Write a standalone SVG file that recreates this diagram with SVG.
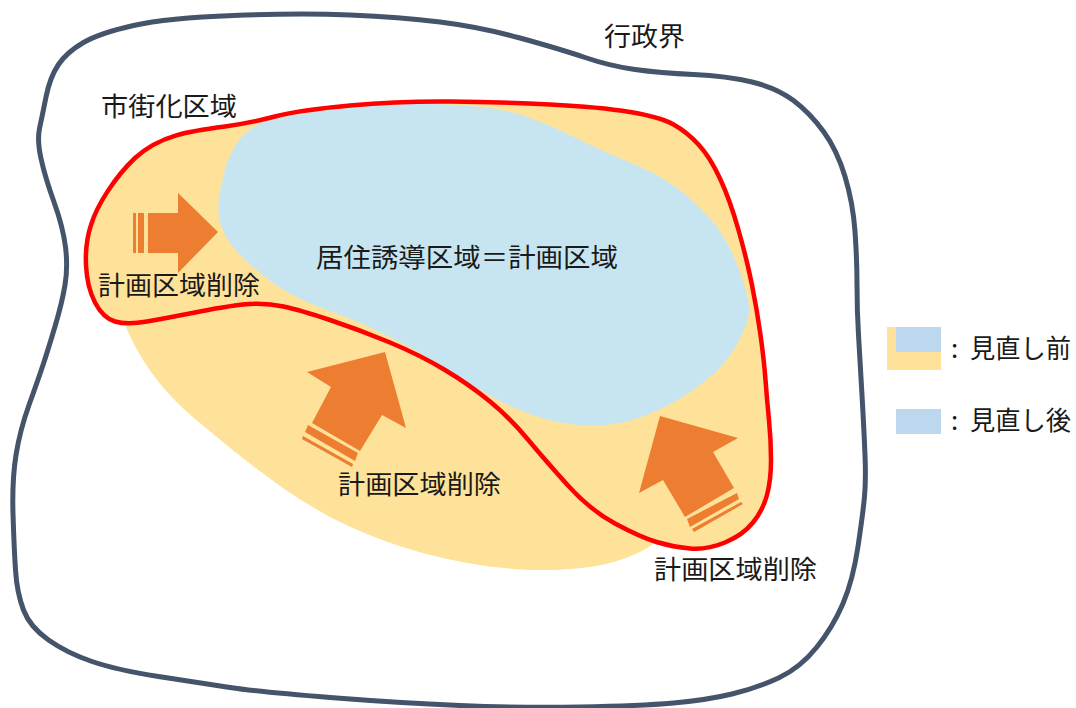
<svg xmlns="http://www.w3.org/2000/svg" width="1076" height="708" viewBox="0 0 1076 708">
<style>
text{font-family:"Noto Sans CJK JP","Noto Sans",sans-serif;font-size:26px;fill:#1a1a1a}
.arrow{fill:#ED7D31}
.yellow{fill:#FFE299}
.legend{fill:#BDD7EE}
</style>
<defs>
<path id="urban-shape" d="M275 116.5Q250 123 225 126.5C190 131 160 135 135 158C115 177 97 205 91 225Q85 243 86 265Q87 287 95 302.5Q103 318 115 321.5Q127 325 147 321.5Q167 318 200 311.5Q233 305 250 304Q267 303 283.5 306.5Q300 310 330 320Q360 330 390 342.5Q420 355 445 370Q470 385 490 401.5Q510 418 527.5 439Q545 460 567.5 485Q590 510 615 523.5Q640 537 656.5 542Q673 547 690 548.5Q707 550 725 542.5Q743 535 753 522.5Q763 510 767 495Q771 480 771 460Q771 440 769 420Q767 400 765.5 380Q764 360 760.5 335Q757 310 752 285Q747 260 738.5 230Q730 200 720 178.5Q710 157 698.5 144.5Q687 132 673.5 124.5Q660 117 630 112Q600 107 550 104.5Q500 102 450 101.5Q400 101 350 105.5Q300 110 275 116.5Z"/>
</defs>
<rect width="1076" height="708" fill="#fff"/>
<g id="admin-boundary"><path d="M233.5 15.5Q300 13 350 15Q400 17 440 22Q480 27 520 38Q560 49 585 57.5Q610 66 635 69.5Q660 73 693.5 74.5Q727 76 752 82Q777 88 793.5 100.5Q810 113 823.5 131.5Q837 150 845 176.5Q853 203 855 231.5Q857 260 857 285Q857 310 858.5 335Q860 360 862 395Q864 430 865 455Q866 480 864.5 496.5Q863 513 858 546.5Q853 580 843 603.5Q833 627 816.5 647.5Q800 668 778.5 678Q757 688 732 694Q707 700 673.5 703Q640 706 580 707Q520 708 460 705.5Q400 703 330 697.5Q260 692 230 687.5Q200 683 158.5 676.5Q117 670 92 661.5Q67 653 48.5 640Q30 627 23.5 610Q17 593 15.5 570Q14 547 13 513.5Q12 480 16 455Q20 430 29 405Q38 380 43 365Q48 350 55 326.5Q62 303 65 285Q68 267 65.5 247Q63 227 54 202Q45 177 41 158.5Q37 140 39.5 128.5Q42 117 46 97Q50 77 58.5 64.5Q67 52 83.5 42.5Q100 33 133.5 25.5Q167 18 233.5 15.5Z" fill="#fff" stroke="#44546A" stroke-width="5"/></g>
<g id="urban-area">
<path class="yellow" d="M125 325C145 372 172 400 200 423C235 452 280 490 330 517C400 553 480 571 550 570C595 569 625 562 652 545L700 480L500 350L300 295L233 305L167 318Z"/>
<use href="#urban-shape" class="yellow"/>
</g>
<g id="planning-area"><path d="M275 119C245 125 232 145 225 170C218 195 216 215 222 228Q227 243 247 261.5Q267 280 283.5 290Q300 300 330 311Q360 322 390 337Q420 352 445 368.5Q470 385 495 398.5Q520 412 545 419Q570 426 595 425.5Q620 425 640 417.5Q660 410 675 401.5Q690 393 707.5 379Q725 365 736.5 345Q748 325 749 312Q750 300 738.5 268.5Q727 237 710 218.5Q693 200 676.5 187.5Q660 175 630 162.5Q600 150 575 137.5Q550 125 525 116Q500 107 450 104.5Q400 102 350 107.5Q300 113 275 119Z" fill="#C7E5F1"/></g>
<g id="urban-outline"><use href="#urban-shape" fill="none" stroke="#FF0000" stroke-width="4.5"/></g>
<g id="arrow-left">
<polygon class="arrow" points="218,232 178,193 178,213 148,213 148,253 178,253 178,273"/>
<rect class="arrow" x="138" y="213" width="6" height="40"/>
<rect class="arrow" x="133" y="213" width="3" height="40"/>
</g>
<g id="arrow-center">
<polygon class="arrow" points="385,352 307,372 331,387 312,423 360,451 382,415 406,428"/>
<polygon class="arrow" points="308,425 358,453 355,461 305,432"/>
<polygon class="arrow" points="303,436 353,464 352,467 302,439"/>
</g>
<g id="arrow-right">
<polygon class="arrow" points="660,416 738,438 713,452 734,488 685,517 663,480 639,493"/>
<polygon class="arrow" points="737,493 739,499 690,527 687,519"/>
<polygon class="arrow" points="741,502 743,504 694,532 692,529"/>
</g>
<g id="labels">
<text x="604" y="46" textLength="81" lengthAdjust="spacingAndGlyphs">行政界</text>
<text x="101" y="116" textLength="136" lengthAdjust="spacingAndGlyphs">市街化区域</text>
<text x="316" y="267" textLength="302" lengthAdjust="spacingAndGlyphs">居住誘導区域＝計画区域</text>
<text x="98" y="295" textLength="162" lengthAdjust="spacingAndGlyphs">計画区域削除</text>
<text x="338" y="494" textLength="163" lengthAdjust="spacingAndGlyphs">計画区域削除</text>
<text x="654" y="579" textLength="163" lengthAdjust="spacingAndGlyphs">計画区域削除</text>
</g>
<g id="legend-before">
<rect class="yellow" x="887" y="327" width="54" height="43"/>
<rect class="legend" x="896" y="327" width="45" height="25"/>
<text x="951" y="358">:</text>
<text x="970" y="358" textLength="101" lengthAdjust="spacingAndGlyphs">見直し前</text>
</g>
<g id="legend-after">
<rect class="legend" x="896" y="409" width="45" height="25"/>
<text x="951" y="430">:</text>
<text x="970" y="430" textLength="101" lengthAdjust="spacingAndGlyphs">見直し後</text>
</g>
</svg>
